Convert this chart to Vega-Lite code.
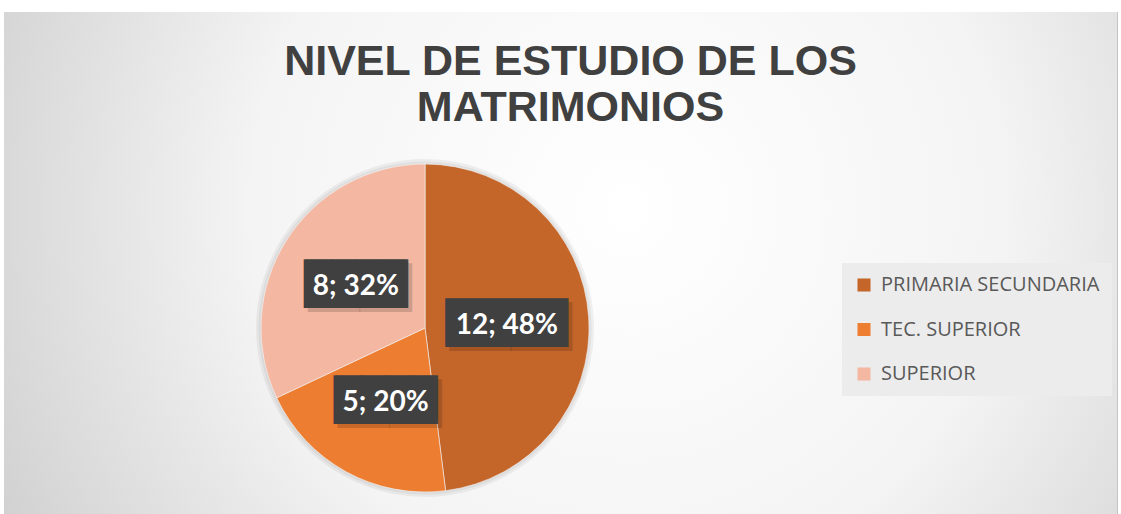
{
  "$schema": "https://vega.github.io/schema/vega-lite/v6.json",
  "width": 1121,
  "height": 514,
  "autosize": {"type": "fit", "contains": "padding"},
  "padding": {"left": 4, "top": 12, "right": 4, "bottom": 0},
  "background": "#ffffff",
  "config": {"view": {"stroke": "#c4c4c4", "strokeWidth": 1}},
  "title": {
    "text": ["NIVEL DE ESTUDIO DE LOS", "MATRIMONIOS"],
    "font": "Liberation Sans",
    "fontSize": 43,
    "fontWeight": "bold",
    "color": "#404040",
    "anchor": "middle",
    "frame": "group",
    "orient": "top",
    "offset": -152,
    "baseline": "alphabetic",
    "lineHeight": 46,
    "dx": 10
  },
  "data": {
    "values": [
      {"nivel": "PRIMARIA SECUNDARIA", "valor": 12, "orden": 1},
      {"nivel": "TEC. SUPERIOR", "valor": 5, "orden": 2},
      {"nivel": "SUPERIOR", "valor": 8, "orden": 3}
    ]
  },
  "transform": [
    {"joinaggregate": [{"op": "sum", "field": "valor", "as": "total"}]},
    {"calculate": "datum.valor + '; ' + round(datum.valor / datum.total * 100) + '%'", "as": "etiqueta"},
    {"calculate": "length(datum.etiqueta) > 6 ? '▐██' : '▕██'", "as": "cajaIzq"},
    {"calculate": "length(datum.etiqueta) > 6 ? '██▌' : '██▏'", "as": "cajaDer"}
  ],
  "layer": [
    {
      "mark": {
        "type": "rect",
        "fill": {
          "gradient": "radial",
          "x1": 0.56, "y1": 0.45, "r1": 0,
          "x2": 0.56, "y2": 0.45, "r2": 0.75,
          "stops": [
            {"offset": 0, "color": "#ffffff"},
            {"offset": 0.45, "color": "#f4f4f4"},
            {"offset": 1, "color": "#c2c2c2"}
          ]
        }
      },
      "encoding": {}
    },
    {
      "mark": {"type": "arc", "radius": 169, "fill": "#000000", "opacity": 0.05},
      "encoding": {
        "theta": {"field": "valor", "type": "quantitative", "stack": true},
        "order": {"field": "orden", "type": "quantitative"},
        "x": {"datum": 1.3783, "type": "quantitative", "scale": {"domain": [1, 2]}, "axis": null},
        "y": {"datum": 1.3705, "type": "quantitative", "scale": {"domain": [1, 2]}, "axis": null}
      }
    },
    {
      "mark": {"type": "arc", "radius": 166.5, "fill": "#000000", "opacity": 0.05},
      "encoding": {
        "theta": {"field": "valor", "type": "quantitative", "stack": true},
        "order": {"field": "orden", "type": "quantitative"},
        "x": {"datum": 1.3783, "type": "quantitative"},
        "y": {"datum": 1.3705, "type": "quantitative"}
      }
    },
    {
      "mark": {"type": "arc", "radius": 164, "stroke": "#f4f4f4", "strokeWidth": 0.6},
      "encoding": {
        "theta": {"field": "valor", "type": "quantitative", "stack": true},
        "order": {"field": "orden", "type": "quantitative"},
        "x": {"datum": 1.3783, "type": "quantitative"},
        "y": {"datum": 1.3705, "type": "quantitative"},
        "color": {
          "field": "nivel",
          "type": "nominal",
          "sort": null,
          "scale": {
            "domain": ["PRIMARIA SECUNDARIA", "TEC. SUPERIOR", "SUPERIOR"],
            "range": ["#C4652A", "#ED7D31", "#F4B7A2"]
          },
          "legend": {
            "orient": "none",
            "legendX": 838,
            "legendY": 251,
            "title": null,
            "symbolType": "square",
            "symbolSize": 170,
            "symbolStrokeWidth": 0,
            "labelFont": "Open Sans",
            "labelFontSize": 20,
            "labelColor": "#595959",
            "labelOffset": 7,
            "rowPadding": 24.5,
            "padding": 12,
            "fillColor": "#ececec",
            "labelLimit": 400
          }
        }
      }
    },
    {
      "mark": {"type": "text", "radius": 82, "align": "right", "baseline": "middle", "font": "DejaVu Sans Mono", "fontSize": 41, "color": "#000000", "opacity": 0.15, "dx": 4, "dy": 6},
      "encoding": {
        "theta": {"field": "valor", "type": "quantitative", "stack": true},
        "order": {"field": "orden", "type": "quantitative"},
        "x": {"datum": 1.3783, "type": "quantitative"},
        "y": {"datum": 1.3705, "type": "quantitative"},
        "text": {"field": "cajaIzq"}
      }
    },
    {
      "mark": {"type": "text", "radius": 82, "align": "left", "baseline": "middle", "font": "DejaVu Sans Mono", "fontSize": 41, "color": "#000000", "opacity": 0.15, "dx": 4, "dy": 6},
      "encoding": {
        "theta": {"field": "valor", "type": "quantitative", "stack": true},
        "order": {"field": "orden", "type": "quantitative"},
        "x": {"datum": 1.3783, "type": "quantitative"},
        "y": {"datum": 1.3705, "type": "quantitative"},
        "text": {"field": "cajaDer"}
      }
    },
    {
      "mark": {"type": "text", "radius": 82, "align": "right", "baseline": "middle", "font": "DejaVu Sans Mono", "fontSize": 41, "color": "#404040", "dy": 2},
      "encoding": {
        "theta": {"field": "valor", "type": "quantitative", "stack": true},
        "order": {"field": "orden", "type": "quantitative"},
        "x": {"datum": 1.3783, "type": "quantitative"},
        "y": {"datum": 1.3705, "type": "quantitative"},
        "text": {"field": "cajaIzq"}
      }
    },
    {
      "mark": {"type": "text", "radius": 82, "align": "left", "baseline": "middle", "font": "DejaVu Sans Mono", "fontSize": 41, "color": "#404040", "dy": 2},
      "encoding": {
        "theta": {"field": "valor", "type": "quantitative", "stack": true},
        "order": {"field": "orden", "type": "quantitative"},
        "x": {"datum": 1.3783, "type": "quantitative"},
        "y": {"datum": 1.3705, "type": "quantitative"},
        "text": {"field": "cajaDer"}
      }
    },
    {
      "mark": {"type": "text", "radius": 82, "align": "center", "baseline": "middle", "font": "Lato", "fontWeight": "bold", "fontSize": 28, "color": "#ffffff", "dy": 3},
      "encoding": {
        "theta": {"field": "valor", "type": "quantitative", "stack": true},
        "order": {"field": "orden", "type": "quantitative"},
        "x": {"datum": 1.3783, "type": "quantitative"},
        "y": {"datum": 1.3705, "type": "quantitative"},
        "text": {"field": "etiqueta"}
      }
    }
  ]
}
